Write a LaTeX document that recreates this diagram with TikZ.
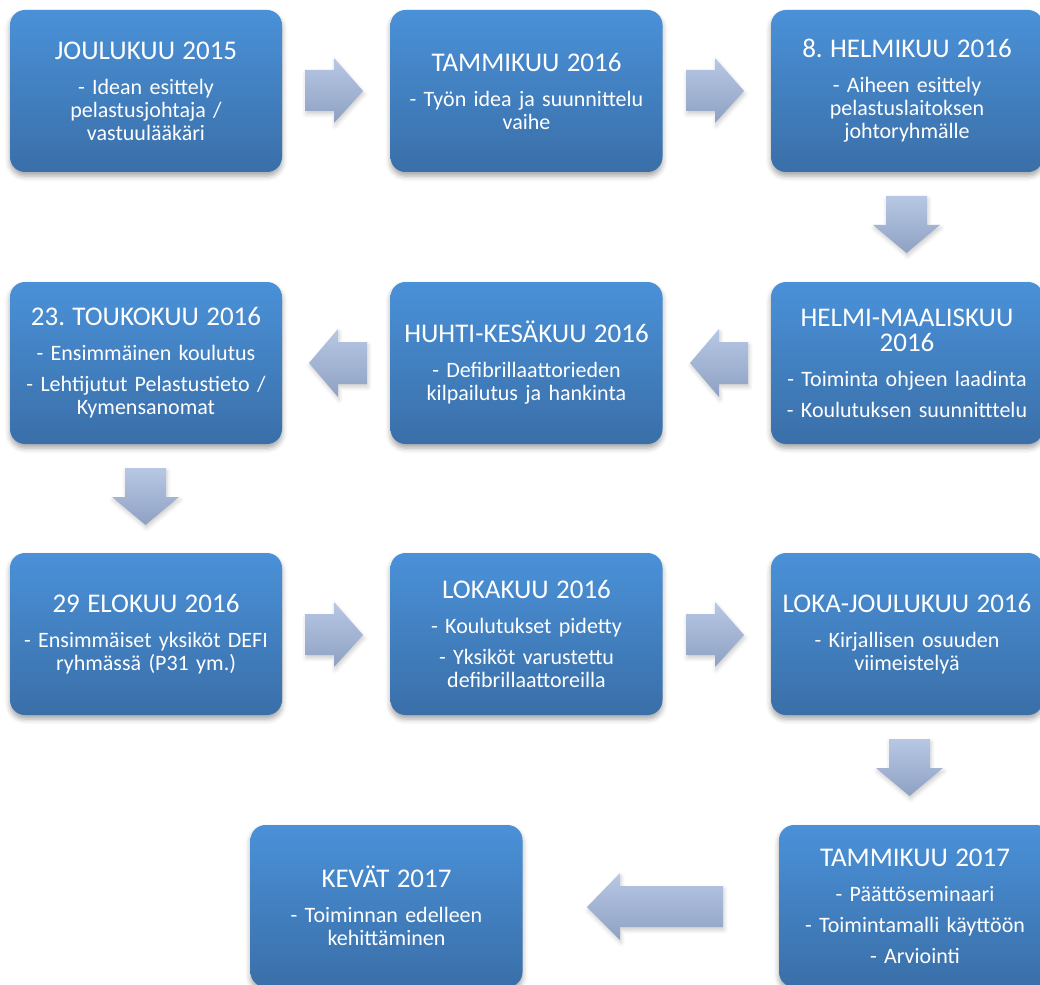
\documentclass[tikz,border=0pt]{standalone}
\usepackage{fontspec}
\setmainfont{Carlito}
\usetikzlibrary{shadows.blur}
\definecolor{boxtop}{RGB}{74,145,216}
\definecolor{boxbot}{RGB}{58,111,168}
\definecolor{arrowtop}{RGB}{183,200,228}
\definecolor{arrowbot}{RGB}{143,161,195}
\frenchspacing
\newcommand\hd[1]{{\fontsize{27}{25}\selectfont #1\par}\vspace{12pt}}
\newcommand\nx{\par\vspace{8pt}}
\begin{document}
\begin{tikzpicture}[x=1pt,y=-1pt,
  stage/.style={rectangle,rounded corners=15pt,minimum width=272pt,minimum height=162pt,
    top color=boxtop,bottom color=boxbot,text=white,text width=268pt,align=center,inner sep=0pt,
    font=\fontsize{22}{23}\selectfont,
    blur shadow={shadow xshift=0pt,shadow yshift=-4pt,shadow blur radius=5pt,shadow opacity=35}},
  blockarrow/.style={top color=arrowtop,bottom color=arrowbot,
    blur shadow={shadow xshift=1pt,shadow yshift=-3pt,shadow blur radius=4pt,shadow opacity=20}}]
\path[use as bounding box] (0,0) rectangle (1040,984);
\clip (0,0) rectangle (1040,984);
%\draw[help lines,step=100] (0,0) grid (1040,984);

% row 1
\node[stage] (s1) at (146,91) {\hd{JOULUKUU 2015}- Idean esittely\\pelastusjohtaja /\\vastuulääkäri};
\node[stage] (s2) at (526.5,91) {\hd{TAMMIKUU 2016}- Työn idea ja suunnittelu\\vaihe};
\node[stage] (s3) at (907,91) {\hd{8. HELMIKUU 2016}- Aiheen esittely\\pelastuslaitoksen\\johtoryhmälle};

% row 2
\node[stage] (s6) at (907,363) {\hd{HELMI-MAALISKUU\\2016}- Toiminta ohjeen laadinta\nx - Koulutuksen suunnitttelu};
\node[stage] (s5) at (526.5,363) {\hd{HUHTI-KESÄKUU 2016}- Defibrillaattorieden\\kilpailutus ja hankinta};
\node[stage] (s4) at (146,363) {\hd{23. TOUKOKUU 2016}- Ensimmäinen koulutus\nx - Lehtijutut Pelastustieto /\\Kymensanomat};

% row 3
\node[stage] (s7) at (146,634) {\hd{29 ELOKUU 2016}- Ensimmäiset yksiköt DEFI\\ryhmässä (P31 ym.)};
\node[stage] (s8) at (526.5,634) {\hd{LOKAKUU 2016}- Koulutukset pidetty\nx - Yksiköt varustettu\\defibrillaattoreilla};
\node[stage] (s9) at (907,634) {\hd{LOKA-JOULUKUU 2016}- Kirjallisen osuuden\\viimeistelyä};

% row 4
\node[stage] (s10) at (915,906) {\hd{TAMMIKUU 2017}- Päättöseminaari\nx - Toimintamalli käyttöön\nx - Arviointi};
\node[stage] (s11) at (386.5,906) {\hd{KEVÄT 2017}- Toiminnan edelleen\\kehittäminen};

% arrows
\foreach \dx/\dy in {0/0,381/0,0/544,381/544}
  \path[blockarrow,shift={(\dx,\dy)}] (305,70) -- (334,70) -- (334,58) -- (363,91)
    -- (334,123) -- (334,111) -- (305,111) -- cycle;
\foreach \dx/\dy in {886/196,125/468,889/739}
  \path[blockarrow,shift={(\dx,\dy)}] (0,0) -- (41,0) -- (41,29) -- (54,29) -- (20.5,57)
    -- (-13,29) -- (0,29) -- cycle;
\foreach \dx/\dy in {309/363,690/363}
  \path[blockarrow,shift={(\dx,\dy)}] (0,0) -- (29,-34) -- (29,-21) -- (58,-21) -- (58,21)
    -- (29,21) -- (29,34) -- cycle;
\path[blockarrow] (587,907) -- (620,873) -- (620,886) -- (723,886) -- (723,927)
  -- (620,927) -- (620,940) -- cycle;
\end{tikzpicture}
\end{document}
